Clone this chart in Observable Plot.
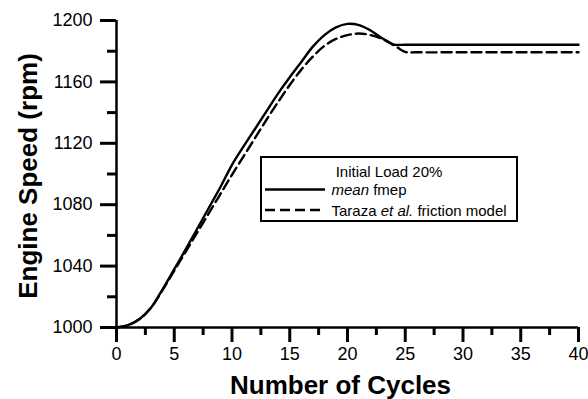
<!DOCTYPE html>
<html><head><meta charset="utf-8">
<script src="https://cdn.jsdelivr.net/npm/d3@7"></script>
<script src="https://cdn.jsdelivr.net/npm/@observablehq/plot@0.6"></script>
<style>
html,body{margin:0;padding:0;background:#fff;}
#chart{position:relative;width:588px;height:399px;}
</style></head><body><div id="chart"></div>
<script>
// ---- data ----
const cycles    = [0,1,2,3,4,5,6,7,8,9,10,11,12,13,14,15,16,17,18,19,20,21,22,23,24,25,26,30,35,40];
const meanFmep  = [1000,1001.5,1005.5,1013,1025,1038,1051,1064.5,1078,1091.5,1106,1118,1129.5,1141,1152.5,1163,1173,1183,1190.5,1195.5,1197.8,1197,1193.5,1188.5,1184.3,1184.2,1184.2,1184.2,1184.2,1184.2];
const tarazaFm  = [1000,1001.5,1005.5,1013,1024.5,1037,1049.5,1062,1074.5,1087,1099.5,1111.5,1123.5,1135.5,1147,1158,1168,1176.5,1183.5,1188,1190.5,1191.5,1190.5,1188,1184,1179.5,1179.3,1179.3,1179.3,1179.3];
const xTicks = [0,5,10,15,20,25,30,35,40];
const xMinor = [2.5,7.5,12.5,17.5,22.5,27.5,32.5,37.5];
const yTicks = [1000,1040,1080,1120,1160,1200];
const yMinor = [1020,1060,1100,1140,1180];
const xTitle = "Number of Cycles";
const yTitle = "Engine Speed (rpm)";
const legendTitle = "Initial Load 20%";
const seriesLabels = [
  [["mean", true], [" fmep", false]],
  [["Taraza ", false], ["et al.", true], [" friction model", false]]
];

const solid = cycles.map((c, i) => ({cycle: c, rpm: meanFmep[i]}));
const dashed = cycles.map((c, i) => ({cycle: c, rpm: tarazaFm[i]}));

const FONT = "'Liberation Sans', Arial, Helvetica, sans-serif";
const AX = 2.5, TK = 3;
const W = 588, H = 399, ML = 116, MR = 10, MT = 20, MB = 72;
const xDom = [0, 40], yDom = [1000, 1200];
// tick lengths in pixels converted to data units (ticks point outward)
const xPerPx = (xDom[1] - xDom[0]) / (W - ML - MR);
const yPerPx = (yDom[1] - yDom[0]) / (H - MT - MB);

const plot = Plot.plot({
  width: W, height: H,
  marginLeft: ML, marginRight: MR, marginTop: MT, marginBottom: MB,
  x: {domain: xDom},
  y: {domain: yDom},
  style: {fontFamily: FONT, fontSize: "18px", color: "#000", background: "#fff", overflow: "visible"},
  marks: [
    Plot.line(solid, {x: "cycle", y: "rpm", curve: "catmull-rom", stroke: "#000", strokeWidth: 2.4}),
    Plot.line(dashed, {x: "cycle", y: "rpm", curve: "catmull-rom", stroke: "#000", strokeWidth: 2.4, strokeDasharray: "10,5"}),
    Plot.axisX({ticks: xTicks, tickSize: 0, tickPadding: 20, label: null, tickFormat: d => String(d)}),
    Plot.axisY({ticks: yTicks, tickSize: 0, tickPadding: 24, label: null, tickFormat: d => String(d)}),
    Plot.ruleX(xTicks, {x: d => d, y1: yDom[0], y2: yDom[0] - 15 * yPerPx, stroke: "#000", strokeWidth: TK, clip: false}),
    Plot.ruleX(xMinor, {x: d => d, y1: yDom[0], y2: yDom[0] - 8 * yPerPx, stroke: "#000", strokeWidth: TK, clip: false}),
    Plot.ruleY(yTicks, {y: d => d, x1: xDom[0], x2: xDom[0] - 16 * xPerPx, stroke: "#000", strokeWidth: TK, clip: false}),
    Plot.ruleY(yMinor, {y: d => d, x1: xDom[0], x2: xDom[0] - 9 * xPerPx, stroke: "#000", strokeWidth: TK, clip: false}),
    Plot.ruleX([xDom[0]], {stroke: "#000", strokeWidth: AX}),
    Plot.ruleY([yDom[0]], {stroke: "#000", strokeWidth: AX}),
    Plot.text([xTitle], {frameAnchor: "bottom", dx: -7, dy: 66, lineAnchor: "bottom", textAnchor: "middle", fontSize: 26, fontWeight: "bold", fill: "#000"}),
    Plot.text([yTitle], {frameAnchor: "left", dx: -80, dy: 2, rotate: -90, lineAnchor: "bottom", textAnchor: "middle", fontSize: 26, fontWeight: "bold", fill: "#000"})
  ]
});

const svg = d3.select(plot);

// ---- legend box ----
const lg = svg.append("g").attr("font-family", FONT).attr("font-size", 15).attr("fill", "#000").attr("text-anchor", "start");
lg.append("rect").attr("x", 261).attr("y", 157).attr("width", 256).attr("height", 64)
  .attr("fill", "#fff").attr("stroke", "#000").attr("stroke-width", 2);
lg.append("text").attr("x", 389).attr("y", 177).attr("text-anchor", "middle").text(legendTitle);
const rows = [{y: 189.5, ty: 195, x2: 325, dash: null}, {y: 210, ty: 215.5, x2: 320, dash: "10,5"}];
rows.forEach((r, i) => {
  const ln = lg.append("line").attr("x1", 265).attr("x2", r.x2).attr("y1", r.y).attr("y2", r.y)
    .attr("stroke", "#000").attr("stroke-width", 2.4);
  if (r.dash) ln.attr("stroke-dasharray", r.dash);
  const t = lg.append("text").attr("x", 331.5).attr("y", r.ty).attr("text-anchor", "start");
  seriesLabels[i].forEach(([s, it]) => {
    const ts = t.append("tspan").text(s);
    if (it) ts.attr("font-style", "italic");
  });
});

document.getElementById("chart").appendChild(plot);
</script>
</body></html>
